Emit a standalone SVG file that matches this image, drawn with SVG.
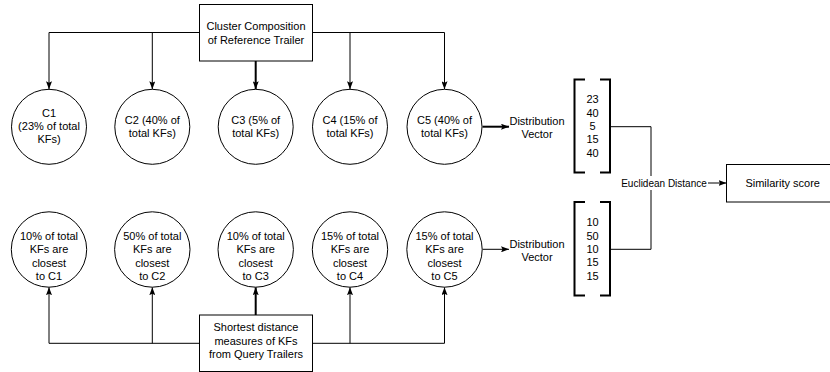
<svg xmlns="http://www.w3.org/2000/svg" width="830" height="372" viewBox="0 0 830 372">
<style>
text{font-family:"Liberation Sans",Arial,sans-serif;font-size:11px;fill:#000;text-anchor:middle}
.n{fill:#fff;stroke:#000;stroke-width:1}
.c{fill:none;stroke:#000;stroke-width:1}
.t{fill:none;stroke:#000;stroke-width:2}
.b{fill:none;stroke:#000;stroke-width:2}
</style>
<defs>
<marker id="a" markerUnits="userSpaceOnUse" markerWidth="8" markerHeight="6" refX="8" refY="3" orient="auto">
<path d="M0,0 L8,3 L0,6 L1.5,3 z" fill="#000"/>
</marker>
</defs>
<g id="connectors">
<path class="c" d="M49,32.5 H444.5"/>
<path class="c" d="M49,32.5 V89.3" marker-end="url(#a)"/>
<path class="c" d="M152.3,32.5 V89.3" marker-end="url(#a)"/>
<path class="t" d="M255.7,61 V89.3" marker-end="url(#a)"/>
<path class="c" d="M350,32.5 V89.3" marker-end="url(#a)"/>
<path class="c" d="M444.5,32.5 V89.3" marker-end="url(#a)"/>
<path class="c" d="M49,343.3 H444.5"/>
<path class="c" d="M49,343.3 V287.2" marker-end="url(#a)"/>
<path class="c" d="M152.3,343.3 V287.2" marker-end="url(#a)"/>
<path class="t" d="M255.7,315 V287.2" marker-end="url(#a)"/>
<path class="c" d="M350,343.3 V287.2" marker-end="url(#a)"/>
<path class="c" d="M444.5,343.3 V287.2" marker-end="url(#a)"/>
<path class="t" d="M482.5,126.7 H509" marker-end="url(#a)"/>
<path class="c" d="M482.5,249.3 H509" marker-end="url(#a)"/>
<path class="c" d="M611,126.7 H651 V249.3 H611"/>
<path class="c" d="M708,183 H726.5" marker-end="url(#a)"/>
</g>
<g id="ref">
<rect class="n" x="199.5" y="4.5" width="113" height="56.5"/>
<text x="256" y="29.5">Cluster Composition</text>
<text x="256" y="43.8">of Reference Trailer</text>
</g>
<g id="query">
<rect class="n" x="199.5" y="315" width="113" height="56.5"/>
<text x="256" y="331">Shortest distance</text>
<text x="256" y="344.5">measures of KFs</text>
<text x="256" y="358">from Query Trailers</text>
</g>
<g id="c1">
<circle class="n" cx="49" cy="126.8" r="37.5"/>
<text x="49" y="116.7">C1</text>
<text x="49" y="130">(23% of total</text>
<text x="49" y="143.3">KFs)</text>
</g>
<g id="c2">
<circle class="n" cx="152.3" cy="126.8" r="37.5"/>
<text x="152.3" y="124">C2 (40% of</text>
<text x="152.3" y="137.3">total KFs)</text>
</g>
<g id="c3">
<circle class="n" cx="255.7" cy="126.8" r="37.5"/>
<text x="255.7" y="124">C3 (5% of</text>
<text x="255.7" y="137.3">total KFs)</text>
</g>
<g id="c4">
<circle class="n" cx="350" cy="126.8" r="37.5"/>
<text x="350" y="124">C4 (15% of</text>
<text x="350" y="137.3">total KFs)</text>
</g>
<g id="c5">
<circle class="n" cx="444.5" cy="126.8" r="37.5"/>
<text x="444.5" y="124">C5 (40% of</text>
<text x="444.5" y="137.3">total KFs)</text>
</g>
<g id="q1">
<circle class="n" cx="49" cy="249.5" r="37.7"/>
<text x="49" y="240">10% of total</text>
<text x="49" y="253.3">KFs are</text>
<text x="49" y="266.6">closest</text>
<text x="49" y="280">to C1</text>
</g>
<g id="q2">
<circle class="n" cx="152.3" cy="249.5" r="37.7"/>
<text x="152.3" y="240">50% of total</text>
<text x="152.3" y="253.3">KFs are</text>
<text x="152.3" y="266.6">closest</text>
<text x="152.3" y="280">to C2</text>
</g>
<g id="q3">
<circle class="n" cx="255.7" cy="249.5" r="37.7"/>
<text x="255.7" y="240">10% of total</text>
<text x="255.7" y="253.3">KFs are</text>
<text x="255.7" y="266.6">closest</text>
<text x="255.7" y="280">to C3</text>
</g>
<g id="q4">
<circle class="n" cx="350" cy="249.5" r="37.7"/>
<text x="350" y="240">15% of total</text>
<text x="350" y="253.3">KFs are</text>
<text x="350" y="266.6">closest</text>
<text x="350" y="280">to C4</text>
</g>
<g id="q5">
<circle class="n" cx="444.5" cy="249.5" r="37.7"/>
<text x="444.5" y="240">15% of total</text>
<text x="444.5" y="253.3">KFs are</text>
<text x="444.5" y="266.6">closest</text>
<text x="444.5" y="280">to C5</text>
</g>
<g id="dv1">
<text x="537" y="125">Distribution</text>
<text x="537" y="138.3">Vector</text>
</g>
<g id="dv2">
<text x="537" y="247.8">Distribution</text>
<text x="537" y="261">Vector</text>
</g>
<g id="vec1">
<path class="b" d="M585,79.5 H574.5 V172.5 H585 M600,79.5 H610 V172.5 H600"/>
<text x="592.5" y="103.3">23</text>
<text x="592.5" y="116.6">40</text>
<text x="592.5" y="129.9">5</text>
<text x="592.5" y="143.2">15</text>
<text x="592.5" y="156.5">40</text>
</g>
<g id="vec2">
<path class="b" d="M585,202 H574.5 V295.5 H585 M600,202 H610 V295.5 H600"/>
<text x="592.5" y="226.3">10</text>
<text x="592.5" y="239.6">50</text>
<text x="592.5" y="252.9">10</text>
<text x="592.5" y="266.2">15</text>
<text x="592.5" y="279.5">15</text>
</g>
<g id="euclid">
<rect x="620" y="176" width="88" height="14" fill="#fff"/>
<text x="664" y="186.5" style="font-size:10px">Euclidean Distance</text>
</g>
<g id="sim">
<rect class="n" x="726.5" y="164.5" width="110" height="37.5"/>
<text x="782.7" y="187">Similarity score</text>
</g>
</svg>
